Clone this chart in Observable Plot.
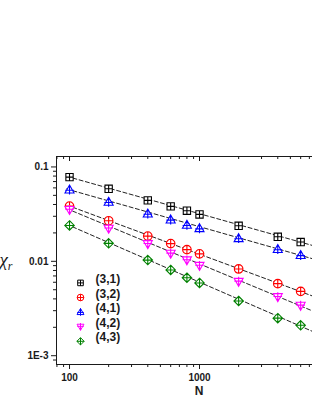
<!DOCTYPE html>
<html><head><meta charset="utf-8">
<script src="https://cdn.jsdelivr.net/npm/d3@7"></script>
<script src="https://cdn.jsdelivr.net/npm/@observablehq/plot@0.6"></script>
<style>
html,body{margin:0;padding:0;overflow:hidden;background:#fff;width:312px;height:403px}
#chart{width:330px}
#chart svg{display:block;font-family:"Liberation Sans",Arial,sans-serif;max-width:none !important;width:330px;height:403px}
</style></head><body><div id="chart"></div>
<script>
// ---- data ----
const N = [100, 200, 400, 600, 800, 1000, 2000, 4000, 6000];
const seriesNames = ["(3,1)", "(3,2)", "(4,1)", "(4,2)", "(4,3)"];
const chi31 = [0.0780, 0.0587, 0.0442, 0.0382, 0.0344, 0.0314, 0.0238, 0.0182, 0.0160];
const chi32 = [0.0385, 0.0269, 0.0185, 0.0154, 0.0133, 0.0120, 0.0083, 0.0058, 0.0048];
const chi41 = [0.0573, 0.0425, 0.0319, 0.0276, 0.0242, 0.0223, 0.0175, 0.0134, 0.0116];
const chi42 = [0.0352, 0.0223, 0.0153, 0.0121, 0.0103, 0.0090, 0.0061, 0.0042, 0.0034];
const chi43 = [0.0240, 0.0155, 0.0103, 0.0081, 0.0067, 0.0059, 0.0038, 0.0025, 0.0021];
// dashed power-law fit lines (end points)
const fitN = [95, 10000];
const fit31 = [0.0795, 0.0131];
const fit32 = [0.0395, 0.00368];
const fit41 = [0.0584, 0.00947];
const fit42 = [0.0362, 0.00251];
const fit43 = [0.0247, 0.00151];
// ticks
const yMajor = [0.001, 0.01, 0.1];
const yMajorLabels = ["1E-3", "0.01", "0.1"];
const yMinor = [0.0009, 0.002, 0.003, 0.004, 0.005, 0.006, 0.007, 0.008, 0.009,
                0.02, 0.03, 0.04, 0.05, 0.06, 0.07, 0.08, 0.09];
const xMajor = [100, 1000];
const xMajorLabels = ["100", "1000"];
const xMinor = [80, 90, 200, 300, 400, 500, 600, 700, 800, 900,
                2000, 3000, 4000, 5000, 6000, 7000, 8000, 9000];

const colors = ["#000000", "#ff0000", "#0000ff", "#ff00ff", "#008000"];
const values = [chi31, chi32, chi41, chi42, chi43];
const fits = [fit31, fit32, fit41, fit42, fit43];

// ---- symbols (hollow shape with a cross inside) ----
function mk(kind) {
  return {draw(ctx, size) {
    const r = Math.sqrt(size / Math.PI);
    if (kind === "square") {
      const s = r * 0.85;
      ctx.moveTo(-s, -s); ctx.lineTo(s, -s); ctx.lineTo(s, s); ctx.lineTo(-s, s); ctx.closePath();
      ctx.moveTo(-s, 0); ctx.lineTo(s, 0); ctx.moveTo(0, -s); ctx.lineTo(0, s);
    } else if (kind === "circle") {
      ctx.moveTo(r, 0); ctx.arc(0, 0, r, 0, 2 * Math.PI); ctx.closePath();
      ctx.moveTo(-r, 0); ctx.lineTo(r, 0); ctx.moveTo(0, -r); ctx.lineTo(0, r);
    } else if (kind === "up") {
      const t = -r * 1.1, b = r * 0.75, w = r * 1.05;
      ctx.moveTo(0, t); ctx.lineTo(w, b); ctx.lineTo(-w, b); ctx.closePath();
      ctx.moveTo(-w * 0.95, r * 0.1); ctx.lineTo(w * 0.95, r * 0.1);
      ctx.moveTo(0, t); ctx.lineTo(0, r * 1.1);
    } else if (kind === "down") {
      const t = r * 1.1, b = -r * 0.75, w = r * 1.05;
      ctx.moveTo(0, t); ctx.lineTo(w, b); ctx.lineTo(-w, b); ctx.closePath();
      ctx.moveTo(-w * 0.95, -r * 0.1); ctx.lineTo(w * 0.95, -r * 0.1);
      ctx.moveTo(0, t); ctx.lineTo(0, -r * 1.1);
    } else {
      const d = r * 1.1;
      ctx.moveTo(0, -d); ctx.lineTo(d, 0); ctx.lineTo(0, d); ctx.lineTo(-d, 0); ctx.closePath();
      ctx.moveTo(-d, 0); ctx.lineTo(d, 0); ctx.moveTo(0, -d); ctx.lineTo(0, d);
    }
  }};
}
const symbols = [mk("square"), mk("circle"), mk("up"), mk("down"), mk("diamond")];

const points = seriesNames.flatMap((s, i) => N.map((n, j) => ({s, i, n, v: values[i][j]})));
const fitRows = seriesNames.flatMap((s, i) => fitN.map((n, j) => ({s, n, v: fits[i][j]})));
const yLab = new Map(yMajor.map((d, i) => [d, yMajorLabels[i]]));
const xLab = new Map(xMajor.map((d, i) => [d, xMajorLabels[i]]));

const ink = "#1a1a1a";
const marks = [
  Plot.frame({stroke: ink, strokeWidth: 1}),
  // left axis
  Plot.axisY(yMinor, {anchor: "left", tickSize: 3, tickFormat: () => "", label: null, stroke: ink}),
  Plot.axisY(yMajor, {anchor: "left", tickSize: 5, tickPadding: 3, tickFormat: d => yLab.get(d), label: null,
    stroke: ink, fill: ink, fontWeight: "bold", fontSize: 10}),
  // bottom axis
  Plot.axisX(xMinor, {anchor: "bottom", tickSize: 3, tickFormat: () => "", label: null, stroke: ink}),
  Plot.axisX(xMajor, {anchor: "bottom", tickSize: 5, tickPadding: 4, tickFormat: d => xLab.get(d), label: null,
    stroke: ink, fill: ink, fontWeight: "bold", fontSize: 10}),
  // top mirror ticks (inward)
  Plot.ruleX(xMinor, {x: d => d, insetBottom: 205, stroke: ink}),
  Plot.ruleX(xMajor, {x: d => d, insetBottom: 203, stroke: ink}),
  // fits
  Plot.line(fitRows, {x: "n", y: "v", z: "s", stroke: "#222", strokeWidth: 1, strokeDasharray: "4,2.5"}),
];
seriesNames.forEach((s, i) => {
  marks.push(Plot.dot(points.filter(d => d.i === i), {x: "n", y: "v", symbol: symbols[i], r: 4.3,
    stroke: colors[i], fill: "white", strokeWidth: 1.1}));
});
// legend inside the frame
seriesNames.forEach((s, i) => {
  marks.push(Plot.dot([s], {frameAnchor: "bottom-left", dx: 24, dy: -81.6 + i * 14.6, symbol: symbols[i], r: 3.3,
    stroke: colors[i], fill: "white", strokeWidth: 1}));
  marks.push(Plot.text([s], {frameAnchor: "bottom-left", dx: 39, dy: -81.6 + i * 14.6, text: d => d,
    textAnchor: "start", fontWeight: "bold", fontSize: 12, fill: ink}));
});
marks.push(Plot.text(["N"], {frameAnchor: "bottom", dx: 6, dy: 30, text: d => d, fontWeight: "bold", fontSize: 12, fill: ink}));

const chart = Plot.plot({
  width: 330, height: 403,
  marginLeft: 56, marginRight: 1, marginTop: 156, marginBottom: 39,
  style: {maxWidth: "none"},
  x: {type: "log", domain: [79.4, 10000], axis: null},
  y: {type: "log", domain: [8.07e-4, 0.129], axis: null},
  marks
});
document.getElementById("chart").appendChild(chart);

// y-axis label chi_r
const svg = d3.select(chart);
const lab = svg.append("text").attr("x", 6).attr("y", 266)
  .style("font-family", "'Liberation Serif','DejaVu Serif',serif").style("font-style", "italic")
  .style("font-size", "19px").attr("fill", ink);
lab.append("tspan").text("χ");
lab.append("tspan").attr("dy", 4).style("font-size", "12px").text("r");
</script></body></html>
